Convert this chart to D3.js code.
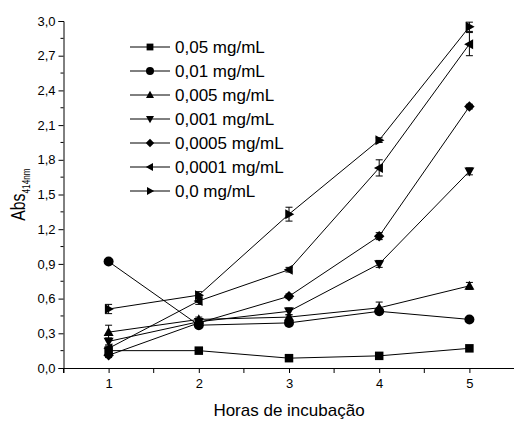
<!DOCTYPE html>
<html>
<head>
<meta charset="utf-8">
<script src="https://cdn.jsdelivr.net/npm/d3@7"></script>
<style>
  html, body { margin: 0; padding: 0; background: #fff; }
  svg { display: block; font-family: "Liberation Sans", Arial, sans-serif; }
</style>
</head>
<body>
<svg id="chart" width="514" height="421"></svg>
<script>
// Incubation time (hours)
const hours = [1, 2, 3, 4, 5];

// Concentration labels for each series
const seriesLabels = [
  "0,05 mg/mL", "0,01 mg/mL", "0,005 mg/mL", "0,001 mg/mL",
  "0,0005 mg/mL", "0,0001 mg/mL", "0,0 mg/mL"
];

// Marker shape of each series
const seriesShapes = ["square", "circle", "up", "down", "diamond", "left", "right"];

// Absorbance at 414 nm
const abs005 = [0.15, 0.15, 0.085, 0.105, 0.17];
const abs001 = [0.92, 0.37, 0.39, 0.49, 0.42];
const abs0005 = [0.31, 0.42, 0.44, 0.52, 0.71];
const abs0001 = [0.23, 0.40, 0.49, 0.90, 1.70];
const abs00005 = [0.11, 0.39, 0.62, 1.14, 2.26];
const abs00001 = [0.17, 0.58, 0.85, 1.73, 2.80];
const abs0 = [0.51, 0.63, 1.33, 1.97, 2.95];

// Standard deviations
const err005 = [0.01, 0.01, 0.01, 0.01, 0.01];
const err001 = [0.01, 0.01, 0.01, 0.01, 0.01];
const err0005 = [0.06, 0.02, 0.02, 0.05, 0.03];
const err0001 = [0.03, 0.02, 0.03, 0.03, 0.03];
const err00005 = [0.02, 0.02, 0.02, 0.03, 0.02];
const err00001 = [0.02, 0.03, 0.02, 0.07, 0.10];
const err0 = [0.04, 0.03, 0.06, 0.02, 0.04];

// Axis ticks
const yTicks = [0, 0.3, 0.6, 0.9, 1.2, 1.5, 1.8, 2.1, 2.4, 2.7, 3.0];
const yMinorTicks = [0.15, 0.45, 0.75, 1.05, 1.35, 1.65, 1.95, 2.25, 2.55, 2.85];
const xMinorTicks = [0.5, 1.5, 2.5, 3.5, 4.5];

const values = [abs005, abs001, abs0005, abs0001, abs00005, abs00001, abs0];
const errors = [err005, err001, err0005, err0001, err00005, err00001, err0];

const series = seriesLabels.map((label, i) => ({
  label, shape: seriesShapes[i],
  points: hours.map((h, j) => ({ h, v: values[i][j], e: errors[i][j] }))
}));

const svg = d3.select("#chart");
const x = d3.scaleLinear().domain([0.5, 5.5]).range([63.5, 514.5]);
const y = d3.scaleLinear().domain([0, 3.0]).range([368, 21]);
const fmt = d => d3.format(".1f")(d).replace(".", ",");

// Marker path generator
function shapePath(shape, r) {
  switch (shape) {
    case "square": return `M${-r * 0.85},${-r * 0.85}H${r * 0.85}V${r * 0.85}H${-r * 0.85}Z`;
    case "circle": return `M${r},0A${r},${r} 0 1,1 ${-r},0A${r},${r} 0 1,1 ${r},0Z`;
    case "up": return `M0,${-r * 1.05}L${r},${r * 0.75}L${-r},${r * 0.75}Z`;
    case "down": return `M0,${r * 1.05}L${r},${-r * 0.75}L${-r},${-r * 0.75}Z`;
    case "diamond": return `M0,${-r * 1.05}L${r * 1.05},0L0,${r * 1.05}L${-r * 1.05},0Z`;
    case "left": return `M${-r * 1.05},0L${r * 0.75},${-r}L${r * 0.75},${r}Z`;
    case "right": return `M${r * 1.05},0L${-r * 0.75},${-r}L${-r * 0.75},${r}Z`;
  }
}

// Axes
const yAxis = d3.axisLeft(y).tickValues(yTicks).tickFormat(fmt).tickSize(5).tickPadding(3);
const gy = svg.append("g").attr("transform", `translate(${x(0.5)},0)`).call(yAxis);
gy.append("g").selectAll("line").data(yMinorTicks).join("line")
  .attr("x1", -3).attr("x2", 0).attr("y1", d => y(d)).attr("y2", d => y(d))
  .attr("stroke", "#000");

const xAxis = d3.axisBottom(x).tickValues(hours).tickFormat(d3.format("d")).tickSize(5).tickPadding(6);
const gx = svg.append("g").attr("transform", `translate(0,${y(0)})`).call(xAxis);
gx.append("g").selectAll("line").data(xMinorTicks).join("line")
  .attr("x1", d => x(d)).attr("x2", d => x(d)).attr("y1", 0).attr("y2", 5)
  .attr("stroke", "#000");

[gx, gy].forEach(g => {
  g.select(".domain").attr("stroke", "#000");
  g.selectAll("text").attr("font-size", 13).attr("fill", "#000")
    .attr("font-family", "'Liberation Sans', Arial, sans-serif");
});

// Axis titles
svg.append("text")
  .attr("x", x(3)).attr("y", 416)
  .attr("text-anchor", "middle").attr("font-size", 17)
  .text("Horas de incubação");

const yTitle = svg.append("text")
  .attr("transform", `translate(25,${y(1.5)}) rotate(-90) scale(0.75,1)`)
  .attr("text-anchor", "middle").attr("font-size", 21);
yTitle.append("tspan").text("Abs");
yTitle.append("tspan").attr("font-size", 11).attr("dy", 5).text("414nm");

// Series lines
const line = d3.line().x(d => x(d.h)).y(d => y(d.v));
const plot = svg.append("g");
plot.selectAll("path.series").data(series).join("path")
  .attr("class", "series")
  .attr("d", d => line(d.points))
  .attr("fill", "none").attr("stroke", "#000").attr("stroke-width", 1);

// Error bars
const eb = plot.selectAll("g.err").data(series.flatMap(s => s.points)).join("g").attr("class", "err");
eb.append("line")
  .attr("x1", d => x(d.h)).attr("x2", d => x(d.h))
  .attr("y1", d => y(d.v + d.e)).attr("y2", d => y(d.v - d.e))
  .attr("stroke", "#000");
eb.selectAll("line.cap").data(d => [d.v + d.e, d.v - d.e].map(v => ({ h: d.h, v }))).join("line")
  .attr("class", "cap")
  .attr("x1", d => x(d.h) - 3.5).attr("x2", d => x(d.h) + 3.5)
  .attr("y1", d => y(d.v)).attr("y2", d => y(d.v))
  .attr("stroke", "#000");

// Markers
series.forEach(s => {
  plot.append("g").selectAll("path").data(s.points).join("path")
    .attr("transform", d => `translate(${x(d.h)},${y(d.v)})`)
    .attr("d", shapePath(s.shape, 5))
    .attr("fill", "#000");
});

// Legend
const legend = svg.append("g");
const rows = legend.selectAll("g").data(series).join("g")
  .attr("transform", (d, i) => `translate(0,${47 + i * 24})`);
rows.append("line").attr("x1", 130).attr("x2", 170).attr("y1", 0).attr("y2", 0)
  .attr("stroke", "#000");
rows.append("path").attr("transform", "translate(150,0)")
  .attr("d", d => shapePath(d.shape, 4)).attr("fill", "#000");
rows.append("text").attr("x", 175).attr("y", 6)
  .attr("font-size", 17).text(d => d.label);
</script>
</body>
</html>
